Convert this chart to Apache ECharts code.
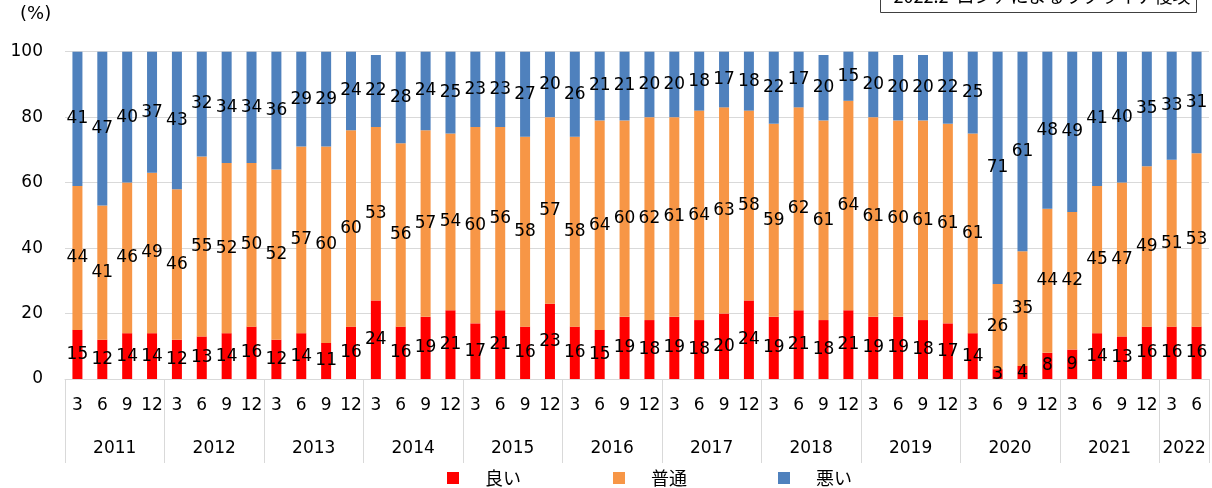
<!DOCTYPE html>
<html>
<head>
<meta charset="utf-8">
<script src="https://cdn.jsdelivr.net/npm/echarts@6/dist/echarts.min.js"></script>
<style>
html,body{margin:0;padding:0;background:#fff;}
#chart{width:1212px;height:488px;}
</style>
</head>
<body>
<div id="chart"></div>
<script>
// ---- data ----
var years = ['2011','2012','2013','2014','2015','2016','2017','2018','2019','2020','2021','2022'];
var quarters = ['3','6','9','12','3','6','9','12','3','6','9','12','3','6','9','12','3','6','9','12','3','6','9','12','3','6','9','12','3','6','9','12','3','6','9','12','3','6','9','12','3','6','9','12','3','6'];
var good = [15,12,14,14, 12,13,14,16, 12,14,11,16, 24,16,19,21, 17,21,16,23, 16,15,19,18, 19,18,20,24, 19,21,18,21, 19,19,18,17, 14,3,4,8, 9,14,13,16, 16,16];
var normal = [44,41,46,49, 46,55,52,50, 52,57,60,60, 53,56,57,54, 60,56,58,57, 58,64,60,62, 61,64,63,58, 59,62,61,64, 61,60,61,61, 61,26,35,44, 42,45,47,49, 51,53];
var bad = [41,47,40,37, 43,32,34,34, 36,29,29,24, 22,28,24,25, 23,23,27,20, 26,21,21,20, 20,18,17,18, 22,17,20,15, 20,20,20,22, 25,71,61,48, 49,41,40,35, 33,31];
var seriesNames = ['良い','普通','悪い'];
var yTicks = [0,20,40,60,80,100];
var annotationText = '2022.2  ロシアによるウクライナ侵攻';

// year axis: boundaries between quarters (47 points), year names centred in their span
var yearAxisData = [];
for (var i = 0; i <= quarters.length; i++) yearAxisData.push('');
(function(){
  var pos = 0;
  years.forEach(function(y){
    var n = (y === '2022') ? 2 : 4;
    var mid = pos + n/2;
    if (Math.abs(mid - Math.round(mid)) < 1e-9) yearAxisData[Math.round(mid)] = y;
    pos += n;
  });
})();
var yearBoundaries = {};
(function(){
  var pos = 0; yearBoundaries[0] = true;
  years.forEach(function(y){ pos += (y === '2022') ? 2 : 4; yearBoundaries[pos] = true; });
})();

var numFont = 'DejaVu Sans, Noto Sans CJK JP, sans-serif';
var cjkFont = 'Noto Sans CJK JP, DejaVu Sans, sans-serif';
var colors = ['#FF0000','#F79646','#4F81BD'];
var legendLefts = [447, 613, 778];

var chart = echarts.init(document.getElementById('chart'), null, {renderer:'canvas'});

function barSeries(name, data, color){
  return {
    name: name, type: 'bar', stack: 'total', data: data,
    xAxisIndex: 0, yAxisIndex: 0,
    barWidth: 10,
    itemStyle: {color: color},
    label: {show: true, position: 'inside', formatter: '{c}', color: '#000', fontSize: 17, fontFamily: numFont},
    emphasis: {disabled: true},
    animation: false
  };
}

var legends = seriesNames.map(function(n, k){
  return {
    data: [{name: n, icon: 'rect'}],
    left: legendLefts[k], top: 469, padding: 0,
    itemWidth: 12, itemHeight: 12,
    formatter: function(name){ return '{s| }{t|' + name + '}'; },
    textStyle: {
      fontSize: 18, fontFamily: cjkFont, color: '#000',
      rich: {s: {width: 21, fontSize: 18}, t: {fontSize: 18, fontFamily: cjkFont, color: '#000'}}
    },
    selectedMode: false
  };
});

chart.setOption({
  animation: false,
  color: colors,
  grid: {left: 65, top: 51.7, width: 1151, height: 327.3, containLabel: false},
  legend: legends,
  xAxis: [
    {
      type: 'category', data: quarters, position: 'bottom',
      axisLine: {show: true, lineStyle: {color: '#d9d9d9', width: 1}},
      axisTick: {show: false},
      axisLabel: {interval: 0, margin: 18, fontSize: 17, color: '#000', fontFamily: numFont},
      splitLine: {show: false}
    },
    {
      type: 'category', data: yearAxisData, boundaryGap: false, position: 'bottom',
      axisLine: {show: false},
      axisTick: {show: true, length: 84, interval: function(idx){ return !!yearBoundaries[idx]; }, lineStyle: {color: '#d9d9d9', width: 1}},
      axisLabel: {interval: 0, margin: 61, fontSize: 17, color: '#000', fontFamily: numFont},
      splitLine: {show: false}
    }
  ],
  yAxis: {
    type: 'value', min: yTicks[0], max: yTicks[yTicks.length-1], interval: yTicks[1]-yTicks[0],
    axisLine: {show: false}, axisTick: {show: false},
    axisLabel: {margin: 22, fontSize: 17, color: '#000', fontFamily: numFont},
    splitLine: {show: true, lineStyle: {color: '#d9d9d9', width: 1}}
  },
  graphic: [
    {type: 'text', left: 20, top: 5, style: {text: '(%)', fontSize: 18, fontFamily: numFont, fill: '#000'}},
    {type: 'rect', shape: {x: 880.5, y: -20, width: 316, height: 32.5}, style: {fill: '#fff', stroke: '#404040', lineWidth: 1}},
    {type: 'text', x: 1042, y: -3.5, style: {text: annotationText, fontSize: 18, fontFamily: cjkFont, fill: '#000', align: 'center', verticalAlign: 'middle'}}
  ],
  series: [
    barSeries(seriesNames[0], good, colors[0]),
    barSeries(seriesNames[1], normal, colors[1]),
    barSeries(seriesNames[2], bad, colors[2])
  ]
});
</script>
</body>
</html>
